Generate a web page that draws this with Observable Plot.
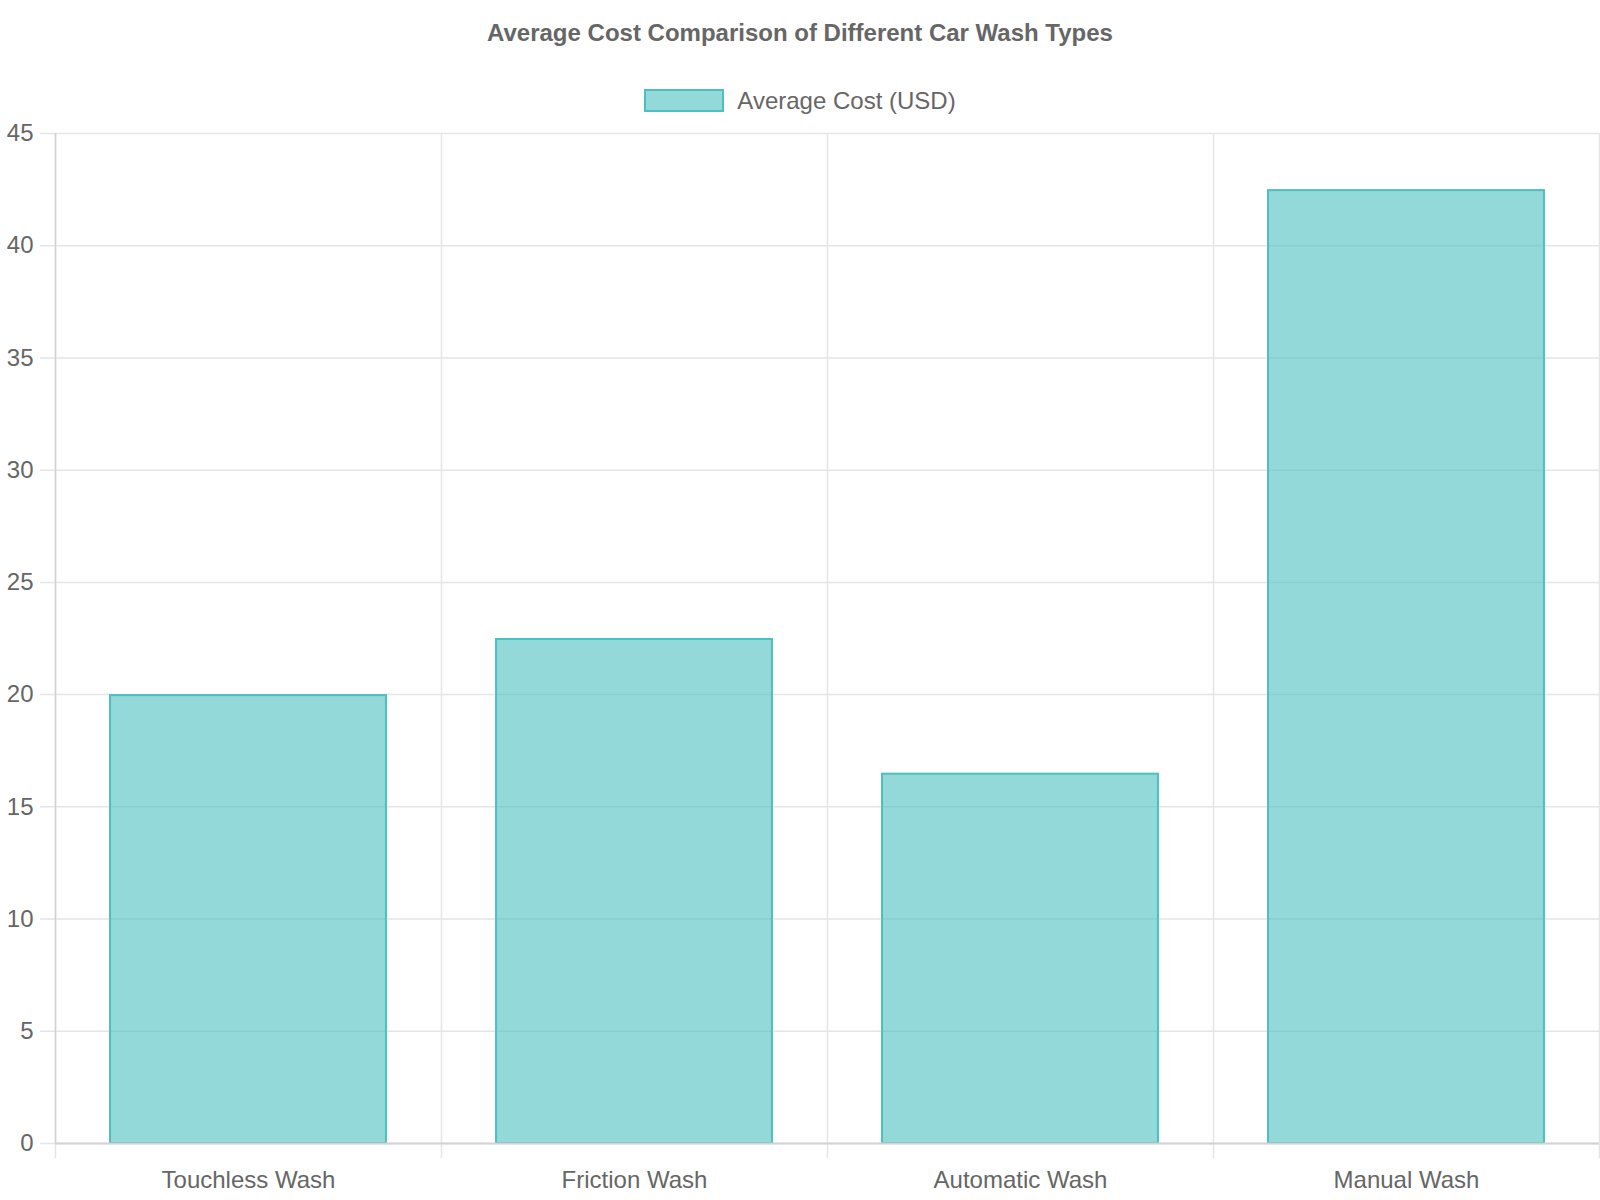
<!DOCTYPE html>
<html>
<head>
<meta charset="utf-8">
<script src="https://cdn.jsdelivr.net/npm/d3@7"></script>
<script src="https://cdn.jsdelivr.net/npm/@observablehq/plot@0.6"></script>
<style>
  body { margin: 0; background: #fff; font-family: "Liberation Sans", Arial, sans-serif; color: #666; }
  #wrap { width: 1600px; height: 1200px; position: relative; overflow: hidden; }
  #title { position: absolute; left: 0; top: 0; width: 1600px; height: 66px; line-height: 66px; text-align: center; font-weight: bold; font-size: 24px; }
  #legend { position: absolute; left: 0; top: 89px; width: 1600px; height: 23px; display: flex; justify-content: center; align-items: center; font-size: 24px; }
  .swatch { width: 76px; height: 19px; background: rgba(75,192,192,0.6); border: 2px solid rgb(75,192,192); margin-right: 13px; }
  #chart { position: absolute; left: 0; top: 120px; }
</style>
</head>
<body>
<div id="wrap">
  <div id="title">Average Cost Comparison of Different Car Wash Types</div>
  <div id="legend"><div class="swatch"></div><span>Average Cost (USD)</span></div>
  <div id="chart"></div>
</div>
<script>
const categories = ["Touchless Wash", "Friction Wash", "Automatic Wash", "Manual Wash"];
const costs = [20, 22.5, 16.5, 42.5];
const yTicks = [0, 5, 10, 15, 20, 25, 30, 35, 40, 45];

const data = categories.map((c, i) => ({ i, category: c, cost: costs[i] }));
const half = 0.36; // Chart.js barPercentage 0.9 * categoryPercentage 0.8 / 2
const boundaries = categories.map((_, i) => i - 0.5).concat([categories.length - 0.5]);

const teal = "rgb(75,192,192)";
const grid = "#e5e5e5";

const chart = Plot.plot({
  width: 1600,
  height: 1080,
  marginTop: 13,
  marginBottom: 57,
  marginLeft: 55,
  marginRight: 1,
  style: { fontSize: "24px", fontFamily: "'Liberation Sans', Arial, sans-serif", color: "#666", background: "#fff" },
  x: { domain: [-0.5, categories.length - 0.5] },
  y: { domain: [0, 45] },
  marks: [
    Plot.ruleY(yTicks, { y: d => d, stroke: grid, strokeWidth: 1.5, insetLeft: -15 }),
    Plot.ruleX(boundaries, { x: d => d, stroke: grid, strokeWidth: 1.5, insetBottom: -15 }),
    Plot.rectY(data, {
      x1: d => d.i - half, x2: d => d.i + half, y1: 0, y2: d => d.cost,
      fill: teal, fillOpacity: 0.6, stroke: teal, strokeWidth: 2, inset: 1, insetBottom: 0
    }),
    Plot.ruleX([boundaries[0]], { x: d => d, stroke: "#d2d2d2", strokeWidth: 1.5 }),
    Plot.ruleY([0], { y: d => d, stroke: "#d2d2d2", strokeWidth: 2 }),
    Plot.axisY({ ticks: yTicks, tickSize: 0, tickPadding: 22, label: null }),
    Plot.axisX({ ticks: data.map(d => d.i), tickFormat: i => categories[i], tickSize: 0, tickPadding: 27, label: null })
  ]
});
document.getElementById("chart").appendChild(chart);
</script>
</body>
</html>
